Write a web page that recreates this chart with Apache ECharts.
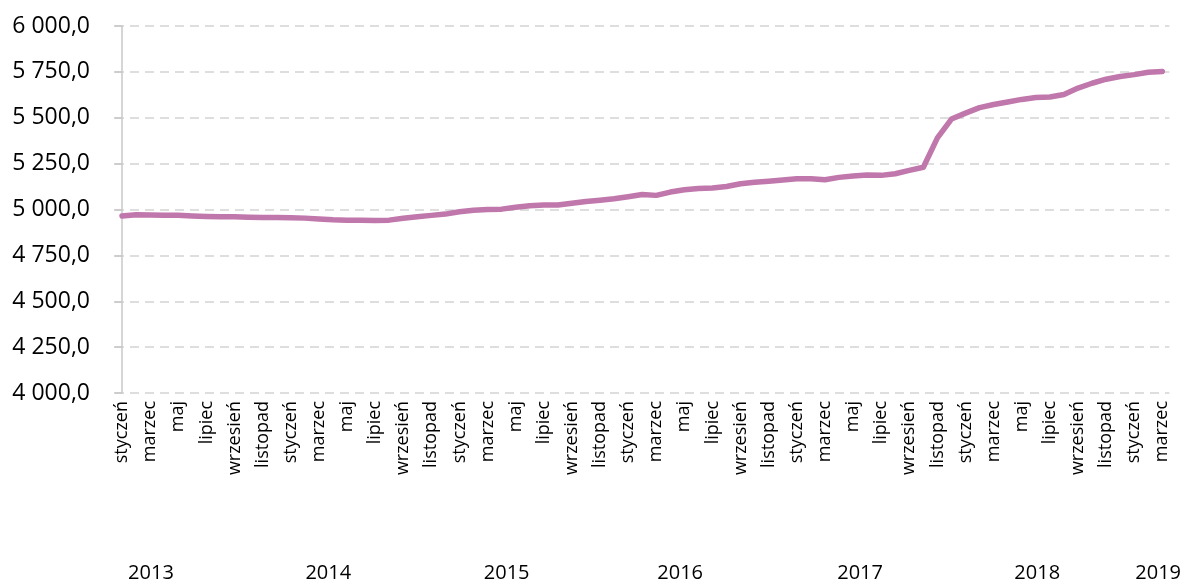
<!DOCTYPE html>
<html>
<head>
<meta charset="utf-8">
<script src="https://cdn.jsdelivr.net/npm/echarts@6/dist/echarts.min.js"></script>
<style>
html,body{margin:0;padding:0;background:#fff;}
#chart{width:1184px;height:583px;}
</style>
</head>
<body>
<div id="chart"></div>
<script>
// Month names (Polish)
var monthNames = ['styczeń','luty','marzec','kwiecień','maj','czerwiec','lipiec','sierpień','wrzesień','październik','listopad','grudzień'];
var startYear = 2013;
var monthCount = 75; // Jan 2013 .. Mar 2019

// Values, monthly, Jan 2013 .. Mar 2019
var values2013 = [4965, 4972, 4970, 4969, 4968, 4965, 4962, 4960, 4960, 4958, 4957, 4956];
var values2014 = [4955, 4953, 4948, 4944, 4942, 4942, 4940, 4942, 4952, 4960, 4968, 4975];
var values2015 = [4988, 4996, 5000, 5002, 5012, 5020, 5024, 5024, 5034, 5044, 5051, 5059];
var values2016 = [5070, 5082, 5077, 5095, 5108, 5115, 5117, 5125, 5140, 5148, 5154, 5161];
var values2017 = [5167, 5167, 5162, 5175, 5183, 5188, 5186, 5195, 5213, 5230, 5390, 5493];
var values2018 = [5525, 5555, 5572, 5586, 5600, 5610, 5613, 5627, 5662, 5688, 5710, 5725];
var values2019 = [5735, 5748, 5752];

// Year label positions (category index where each year label sits)
var yearLabels = ['2013','2014','2015','2016','2017','2018','2019'];
var yearLabelPos = [2.06, 14.67, 27.36, 39.7, 52.5, 65.1, 73.7];

// Y-axis ticks
var yMin = 4000, yMax = 6000, yStep = 250;

var categories = [];
for (var i = 0; i < monthCount; i++) {
  categories.push(monthNames[i % 12]);
}
var seriesValues = [].concat(values2013, values2014, values2015, values2016, values2017, values2018, values2019);

function fmt(v) {
  var s = v.toFixed(1).split('.');
  var intPart = s[0].replace(/\B(?=(\d{3})+(?!\d))/g, ' ');
  return intPart + ',' + s[1];
}

var chart = echarts.init(document.getElementById('chart'), null, {renderer: 'canvas'});
chart.setOption({
  animation: false,
  backgroundColor: '#ffffff',
  grid: {left: 115, right: 11, top: 26, bottom: 189, containLabel: false},
  xAxis: [
    {
      type: 'category',
      data: categories,
      boundaryGap: true,
      axisLine: {show: false},
      axisTick: {show: false},
      axisLabel: {
        interval: 1,
        rotate: 90,
        margin: 8,
        fontFamily: 'Open Sans',
        fontSize: 18,
        color: '#000'
      },
      splitLine: {show: false}
    },
    {
      type: 'value',
      position: 'bottom',
      min: -0.5,
      max: monthCount - 0.5,
      offset: 162,
      axisLine: {show: false},
      axisTick: {show: false},
      splitLine: {show: false},
      axisLabel: {
        customValues: yearLabelPos,
        formatter: function (v) {
          for (var k = 0; k < yearLabelPos.length; k++) {
            if (Math.abs(yearLabelPos[k] - v) < 1e-6) return yearLabels[k];
          }
          return '';
        },
        margin: 8,
        fontFamily: 'Open Sans',
        fontSize: 20,
        color: '#000',
        showMinLabel: true,
        showMaxLabel: true
      }
    }
  ],
  yAxis: {
    type: 'value',
    min: yMin,
    max: yMax,
    interval: yStep,
    offset: -2,
    axisLine: {show: true, lineStyle: {color: '#c8c8c8', width: 1.5}},
    axisTick: {show: true, inside: false, length: 8, lineStyle: {color: '#c8c8c8', width: 1.5}},
    axisLabel: {
      formatter: fmt,
      margin: 27,
      fontFamily: 'Open Sans',
      fontSize: 23,
      color: '#000'
    },
    splitLine: {show: true, lineStyle: {color: '#dedede', type: [9, 6], width: 2}}
  },
  series: [{
    type: 'line',
    data: seriesValues,
    xAxisIndex: 0,
    showSymbol: false,
    symbol: 'none',
    smooth: false,
    lineStyle: {color: '#c077ab', width: 5.5, cap: 'round', join: 'round'}
  }]
});
</script>
</body>
</html>
